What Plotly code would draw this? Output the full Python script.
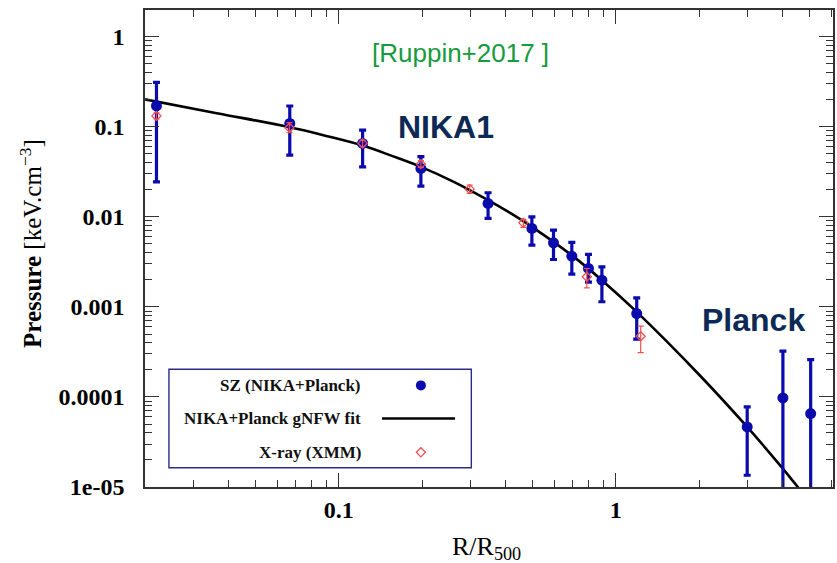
import numpy as np
import plotly.graph_objects as go

# SZ pressure profile (NIKA + Planck): radius, pressure and 1-sigma bounds
sz_r = [0.022, 0.0666, 0.122, 0.198, 0.346, 0.498, 0.596, 0.694, 0.797, 0.891, 1.19, 2.98, 4.01, 5.05]
sz_p = [0.171, 0.109, 0.0654, 0.0345, 0.0141, 0.00743, 0.00514, 0.00366, 0.00267, 0.00198,
        0.000844, 4.64e-5, 9.75e-5, 6.53e-5]
sz_hi = [0.311, 0.170, 0.0919, 0.0465, 0.0185, 0.0100, 0.00711, 0.0052, 0.00382, 0.00278,
         0.00126, 7.74e-5, 3.22e-4, 2.6e-4]
sz_lo = [0.0245, 0.0485, 0.0359, 0.0219, 0.0096, 0.00485, 0.00336, 0.00231, 0.00188, 0.00114,
         0.000438, 1.35e-5, 1e-6, 1e-6]

# X-ray (XMM) deprojected pressure
xr_r = [0.022, 0.0664, 0.122, 0.198, 0.297, 0.464, 0.786, 1.23]
xr_p = [0.132, 0.0975, 0.0654, 0.0385, 0.0203, 0.00857, 0.00216, 0.000472]
xr_hi = [0.143, 0.111, 0.071, 0.042, 0.0225, 0.00935, 0.00267, 0.00061]
xr_lo = [0.122, 0.0858, 0.060, 0.0355, 0.0182, 0.00762, 0.00163, 0.000311]

# gNFW best-fit profile sampled along the curve
fit_r = [0.02, 0.0363, 0.0662, 0.090, 0.1221, 0.1556, 0.198, 0.2625, 0.346, 0.4142, 0.498,
         0.700, 0.891, 1.19, 2.0, 2.98, 3.96, 4.54, 5.37]
fit_p = [0.2015, 0.1416, 0.0992, 0.0792, 0.0618, 0.0475, 0.0359, 0.02417, 0.01533, 0.01111,
         0.00774, 0.00366, 0.00198, 0.00088, 1.764e-4, 4.64e-5, 1.67e-5, 1.0e-5, 5.4e-6]

# axis ticks
x_tickvals = [0.1, 1]
x_ticktext = ["0.1", "1"]
y_tickvals = [1, 0.1, 0.01, 0.001, 0.0001, 0.00001]
y_ticktext = ["1", "0.1", "0.01", "0.001", "0.0001", "1e-05"]

legend_labels = ["SZ (NIKA+Planck)", "NIKA+Planck gNFW fit", "X-ray (XMM)"]

BLUE = "#0a0aad"
RED = "#f0504f"
NAVY = "#0c2a55"
GREEN = "#169b3d"
AXIS = "#333333"

sz_p_a = np.array(sz_p)
xr_p_a = np.array(xr_p)

fig = go.Figure()

fig.add_trace(go.Scatter(
    x=fit_r, y=fit_p, mode="lines",
    line=dict(color="black", width=2.6, shape="spline", smoothing=1.0),
    showlegend=False, hoverinfo="skip"))

fig.add_trace(go.Scatter(
    x=sz_r, y=sz_p, mode="markers",
    marker=dict(color=BLUE, size=11, symbol="circle"),
    error_y=dict(type="data", symmetric=False,
                 array=(np.array(sz_hi) - sz_p_a).tolist(),
                 arrayminus=(sz_p_a - np.array(sz_lo)).tolist(),
                 color=BLUE, thickness=3.2, width=3.5),
    showlegend=False))

fig.add_trace(go.Scatter(
    x=xr_r, y=xr_p, mode="markers",
    marker=dict(color=RED, size=7, symbol="diamond-open", line=dict(width=1.3)),
    error_y=dict(type="data", symmetric=False,
                 array=(np.array(xr_hi) - xr_p_a).tolist(),
                 arrayminus=(xr_p_a - np.array(xr_lo)).tolist(),
                 color=RED, thickness=1.2, width=3),
    showlegend=False))

# legend keys drawn on a fixed 0..1 overlay frame
key_x = 0.401
key_rows = [0.213, 0.1436, 0.0727]
fig.add_trace(go.Scatter(x=[key_x], y=[key_rows[0]], mode="markers", xaxis="x2", yaxis="y2",
                         marker=dict(color=BLUE, size=10), showlegend=False, hoverinfo="skip"))
fig.add_trace(go.Scatter(x=[0.3445, 0.4507], y=[key_rows[1]] * 2, mode="lines", xaxis="x2", yaxis="y2",
                         line=dict(color="black", width=2.4), showlegend=False, hoverinfo="skip"))
fig.add_trace(go.Scatter(x=[key_x], y=[key_rows[2]], mode="markers", xaxis="x2", yaxis="y2",
                         marker=dict(color=RED, size=7, symbol="diamond-open", line=dict(width=1.3)),
                         showlegend=False, hoverinfo="skip"))

minor_x = [m * 10.0 ** e for e in (-2, -1, 0) for m in range(2, 10) if 0.02 <= m * 10.0 ** e <= 6]
minor_y = [m * 10.0 ** e for e in range(-5, 1) for m in range(2, 10) if m * 10.0 ** e < 1.5]

tickfont = dict(family="Liberation Serif", size=24, color="black", weight="bold")

fig.update_layout(
    width=837, height=563,
    margin=dict(l=145, r=2, t=10, b=76),
    paper_bgcolor="white", plot_bgcolor="white",
    showlegend=False,
    xaxis=dict(type="log", range=[np.log10(0.02), np.log10(6.08)],
               tickmode="array", tickvals=x_tickvals, ticktext=x_ticktext,
               ticks="inside", ticklen=14, tickwidth=1.3, tickcolor=AXIS,
               minor=dict(tickmode="array", tickvals=minor_x, ticks="inside",
                          ticklen=7, tickwidth=1.3, tickcolor=AXIS, showgrid=False),
               showline=True, linecolor=AXIS, linewidth=1.6, mirror="allticks",
               showgrid=False, zeroline=False, tickfont=tickfont, ticklabelstandoff=0),
    yaxis=dict(type="log", range=[-5, np.log10(1.98)],
               tickmode="array", tickvals=y_tickvals, ticktext=y_ticktext,
               ticks="inside", ticklen=14, tickwidth=1.3, tickcolor=AXIS,
               minor=dict(tickmode="array", tickvals=minor_y, ticks="inside",
                          ticklen=7, tickwidth=1.3, tickcolor=AXIS, showgrid=False),
               showline=True, linecolor=AXIS, linewidth=1.6, mirror="allticks",
               showgrid=False, zeroline=False, tickfont=tickfont, ticklabelstandoff=14),
    xaxis2=dict(range=[0, 1], overlaying="x", anchor="y2", visible=False, fixedrange=True),
    yaxis2=dict(range=[0, 1], overlaying="y", anchor="x2", visible=False, fixedrange=True),
)

# legend frame
fig.add_shape(type="rect", xref="paper", yref="paper", x0=0.0348, x1=0.4743, y0=0.0405, y1=0.2468,
              line=dict(color="#2b2b8c", width=1.4), fillcolor="rgba(0,0,0,0)", layer="above")
for label_text, yy in zip(legend_labels, key_rows):
    fig.add_annotation(x=0.3174, y=yy, xref="paper", yref="paper", text="<b>%s</b>" % label_text,
                       showarrow=False, xanchor="right", yanchor="middle",
                       font=dict(family="Liberation Serif", size=17, color="#111111"))


def label(x, y, text, font, **kw):
    fig.add_annotation(x=x, y=y, xref="paper", yref="paper", text=text, showarrow=False,
                       xanchor="center", yanchor="middle", font=font, **kw)


# in-plot labels
label(0.4587, 0.9099, "[Ruppin+2017 ]", dict(family="Liberation Sans", size=26, color=GREEN))
label(0.4377, 0.7547, "<b>NIKA1</b>", dict(family="Liberation Sans", size=32, color=NAVY))
label(0.884, 0.350, "<b>Planck</b>", dict(family="Liberation Sans", size=32, color=NAVY))

# axis titles
label(-0.1667, 0.51, "<b>Pressure</b> [keV.cm<sup>\u22123</sup>]",
      dict(family="Liberation Serif", size=25, color="black"), textangle=-90)
label(0.497, -0.128, "R/R<sub>500</sub>", dict(family="Liberation Serif", size=26, color="black"))

fig.write_html("out.html")
